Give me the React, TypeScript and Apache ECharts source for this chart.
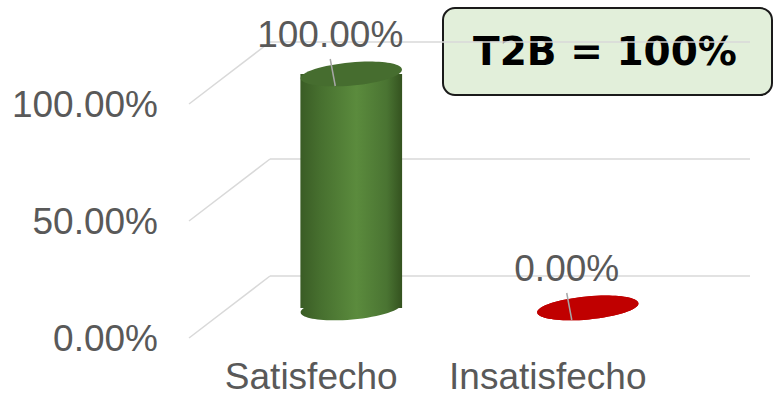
import React, { useEffect, useRef } from 'react';
import * as echarts from 'echarts';

const categories = ['Satisfecho', 'Insatisfecho'];
const values = [1, 0];
const yTicks = [0, 0.5, 1];
const summaryLabel = 'T2B = 100%';

const FONT = '"Liberation Sans", Arial, sans-serif';
const TEXT = '#595959';
const GRID = '#d9d9d9';
const DEPTH = { dx: 81, dy: -62 };
const HALF = { dx: 40, dy: -30 };

const greenBody = {
  type: 'linear', x: 0, y: 0, x2: 1, y2: 0,
  colorStops: [
    { offset: 0, color: '#3a5c25' },
    { offset: 0.2, color: '#47702f' },
    { offset: 0.55, color: '#5b8b3d' },
    { offset: 0.85, color: '#4a7432' },
    { offset: 1, color: '#34521f' },
  ],
};
const fills = [
  { body: greenBody, top: '#466d2f' },
  { body: '#c00000', top: '#c00000' },
];

const pct = (v: number) => (v * 100).toFixed(2) + '%';

export default function App() {
  const ref = useRef<HTMLDivElement>(null);
  useEffect(() => {
    if (!ref.current) return;
    const chart = echarts.init(ref.current, undefined, { renderer: 'svg' });
    const option: any = {
      animation: false,
      backgroundColor: '#ffffff',
      grid: [
        { left: 270, top: 42, width: 480, height: 234 },
        { left: 193, top: 104, width: 473, height: 234 },
      ],
      xAxis: [
        { type: 'category', gridIndex: 0, data: categories, show: false },
        {
          type: 'category', gridIndex: 1, data: categories,
          axisLine: { show: false }, axisTick: { show: false },
          axisLabel: { color: TEXT, fontSize: 37, fontFamily: FONT, margin: 20, interval: 0 },
        },
      ],
      yAxis: [
        {
          type: 'value', gridIndex: 0, min: 0, max: 1, interval: 0.5,
          axisLabel: { show: false }, axisLine: { show: false }, axisTick: { show: false },
          splitLine: { show: true, lineStyle: { color: GRID, width: 1.5 } },
        },
        {
          type: 'value', gridIndex: 1, min: 0, max: 1, interval: 0.5,
          axisLine: { show: false }, axisTick: { show: false },
          splitLine: { show: false },
          axisLabel: { color: TEXT, fontSize: 37, fontFamily: FONT, margin: 35, formatter: (v: number) => pct(v) },
        },
      ],
      series: [
        {
          type: 'custom', xAxisIndex: 0, yAxisIndex: 0, silent: true,
          data: yTicks.map((v) => [0, v]),
          renderItem: (params: any, api: any) => {
            const p = api.coord([0, api.value(1)]);
            const x0 = params.coordSys.x;
            return {
              type: 'line',
              shape: { x1: x0, y1: p[1], x2: x0 - DEPTH.dx, y2: p[1] - DEPTH.dy },
              style: { stroke: GRID, lineWidth: 1.5 },
            };
          },
        },
        {
          type: 'custom', xAxisIndex: 1, yAxisIndex: 1, silent: true,
          data: values.map((v, i) => [i, v]),
          renderItem: (params: any, api: any) => {
            const i = api.value(0);
            const v = api.value(1);
            const b = api.coord([i, 0]);
            const t = api.coord([i, v]);
            const bw = api.size([1, 0])[0];
            const rx = bw * 0.215;
            const ry = 11.5;
            const rot = 0.09;
            const bx = b[0] + HALF.dx;
            const by = b[1] + HALF.dy;
            const ty = t[1] + HALF.dy;
            const f = fills[params.dataIndex];
            const children: any[] = [];
            children.push({
              type: 'ellipse', shape: { cx: bx, cy: by, rx, ry },
              rotation: rot, originX: bx, originY: by, style: { fill: f.body },
            });
            if (by - ty > 0.5) {
              children.push({
                type: 'rect', shape: { x: bx - rx, y: ty, width: 2 * rx, height: by - ty },
                style: { fill: f.body },
              });
            }
            children.push({
              type: 'ellipse', shape: { cx: bx, cy: ty, rx, ry },
              rotation: rot, originX: bx, originY: ty, style: { fill: f.top },
            });
            children.push({
              type: 'line', shape: { x1: bx - 21, y1: ty - 15, x2: bx - 16, y2: ty + 12 },
              style: { stroke: '#a6a6a6', lineWidth: 1.5 },
            });
            children.push({
              type: 'text', x: bx - 21, y: ty - 40,
              style: {
                text: pct(v), fill: TEXT, fontSize: 37, fontFamily: FONT,
                align: 'center', verticalAlign: 'middle',
              },
            });
            return { type: 'group', children };
          },
        },
      ],
      graphic: [
        {
          type: 'group', z: 100,
          children: [
            {
              type: 'rect', shape: { x: 443, y: 8, width: 329, height: 87, r: 12 },
              style: { fill: '#e2efda', stroke: '#1a1a1a', lineWidth: 2 },
            },
            {
              type: 'text', x: 605, y: 51,
              style: {
                text: summaryLabel, fill: '#000000', fontSize: 39, fontWeight: 'bold',
                fontFamily: '"DejaVu Sans", sans-serif', align: 'center', verticalAlign: 'middle',
              },
            },
          ],
        },
      ],
    };
    chart.setOption(option);
    return () => chart.dispose();
  }, []);
  return (
    <div
      ref={ref}
      style={{ position: 'fixed', left: 0, top: 0, width: 777, height: 402, background: '#fff' }}
    />
  );
}
